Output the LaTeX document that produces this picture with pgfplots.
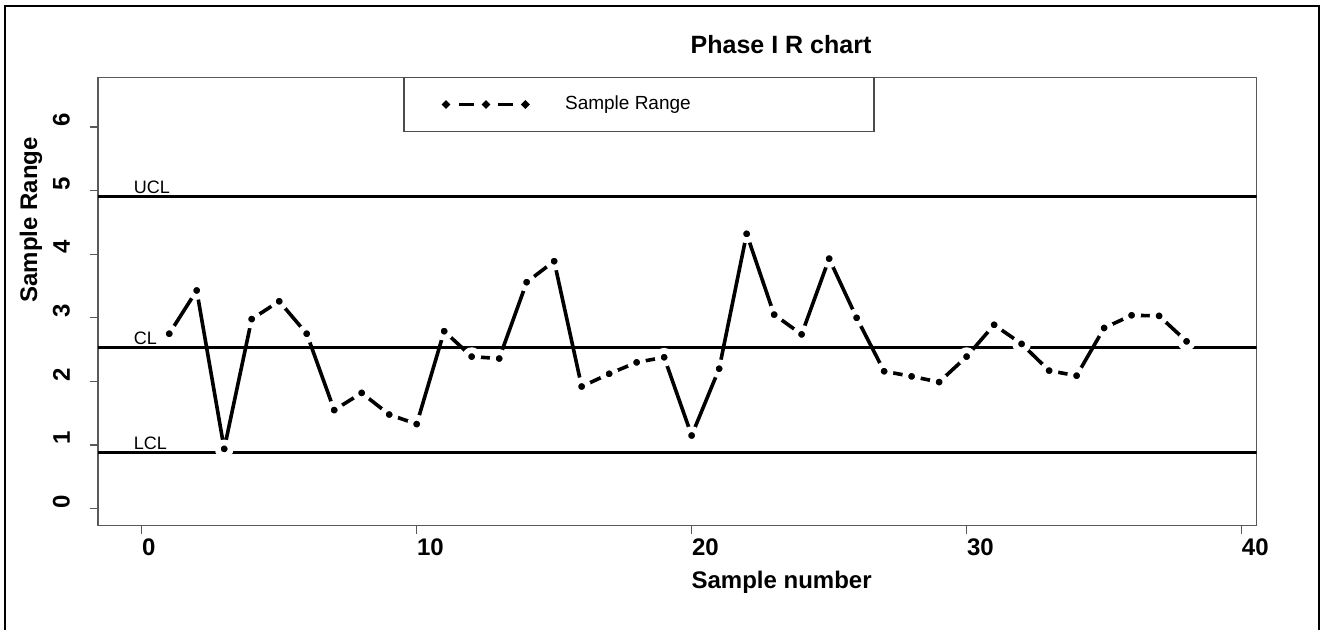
\documentclass[border=0pt]{standalone}
\usepackage{pgfplots}
\pgfplotsset{compat=1.18}
\usepackage{fontspec}
\setmainfont{Liberation Sans}

% sample ranges, one per subgroup
\pgfplotstableread{
n   R
1   2.75
2   3.43
3   0.94
4   2.98
5   3.26
6   2.75
7   1.55
8   1.82
9   1.48
10  1.33
11  2.79
12  2.39
13  2.36
14  3.56
15  3.89
16  1.92
17  2.12
18  2.30
19  2.38
20  1.15
21  2.20
22  4.32
23  3.05
24  2.74
25  3.93
26  3.00
27  2.16
28  2.08
29  1.99
30  2.39
31  2.89
32  2.59
33  2.17
34  2.09
35  2.84
36  3.04
37  3.03
38  2.63
}\ranges

\def\UCL{4.91}
\def\CL{2.54}
\def\LCL{0.88}

\begin{document}
\begin{tikzpicture}
\useasboundingbox (-49pt,-52.15pt) rectangle (612pt,262.85pt);
\begin{axis}[
  at={(0pt,0pt)}, anchor=south west,
  scale only axis, width=579.35pt, height=224.2pt,
  xmin=-1.59, xmax=40.55, ymin=-0.267, ymax=6.78,
  xtick={0,10,20,30,40}, ytick={0,1,2,3,4,5,6},
  tick align=outside, tick pos=left,
  major tick length=4pt,
  axis line style={black!65, line width=0.6pt},
  every tick/.style={black!65, line width=0.6pt},
  /pgf/number format/assume math mode=true,
  tick label style={font=\bfseries\fontsize{12}{14}\selectfont, inner sep=0pt},
  xticklabel style={anchor=north west, yshift=-2.4pt},
  yticklabel style={xshift=-9.85pt, rotate=90, anchor=south west},
  every axis title shift=0pt,
  title={Phase I R chart},
  title style={at={(axis description cs:0.5895,1.072)}, anchor=center,
               font=\bfseries\fontsize{12.5}{15}\selectfont},
  xlabel={Sample number},
  xlabel style={at={(axis description cs:0.59,-0.1256)}, anchor=center,
                font=\bfseries\fontsize{12}{14}\selectfont},
  ylabel={Sample Range},
  ylabel style={at={(axis description cs:-0.0578,0.682)}, anchor=center,
                font=\bfseries\fontsize{12}{14}\selectfont},
  legend style={draw=none, fill=none, inner sep=0pt,
                at={(axis description cs:0.2968,0.9393)}, anchor=west,
                column sep=18pt, font=\fontsize{9.5}{11}\selectfont,
                nodes={inner sep=0pt}},
  legend image code/.code={
    \draw[black, line width=1.4pt]
      (6.7pt,0pt) -- (14.2pt,0pt) (25.85pt,0pt) -- (33.35pt,0pt);
    \fill[black] (0pt,0pt) circle (0.95pt) (20pt,0pt) circle (0.95pt)
      (39.7pt,0pt) circle (0.95pt);},
]
% range series: points joined by segments broken around each point
\addplot[black, line width=1.8pt, mark=*, mark size=3.2pt,
         mark options={solid, fill=black, draw=white, line width=2.9pt}]
  table[x=n, y=R] {\ranges};
\addlegendentry{Sample Range}

% control limits and centre line
\addplot[black, line width=1.5pt, forget plot] coordinates {(-1.59,\UCL) (40.55,\UCL)};
\addplot[black, line width=1.5pt, forget plot] coordinates {(-1.59,\CL) (40.55,\CL)};
\addplot[black, line width=1.5pt, forget plot] coordinates {(-1.59,\LCL) (40.55,\LCL)};

\node[anchor=base west, inner sep=0pt, yshift=1.5pt, font=\fontsize{9}{11}\selectfont]
  at (axis cs:-0.3,\UCL) {UCL};
\node[anchor=base west, inner sep=0pt, yshift=1.5pt, font=\fontsize{9}{11}\selectfont]
  at (axis cs:-0.3,\CL) {CL};
\node[anchor=base west, inner sep=0pt, yshift=1.5pt, font=\fontsize{9}{11}\selectfont]
  at (axis cs:-0.3,\LCL) {LCL};

% legend frame
\draw[black!70, line width=0.6pt]
  (axis description cs:0.2641,1) rectangle (axis description cs:0.6697,0.8787);
\end{axis}
% outer frame
\draw[black, line width=1pt] (-46.65pt,-70pt) rectangle (610.5pt,259.7pt);
\end{tikzpicture}
\end{document}
